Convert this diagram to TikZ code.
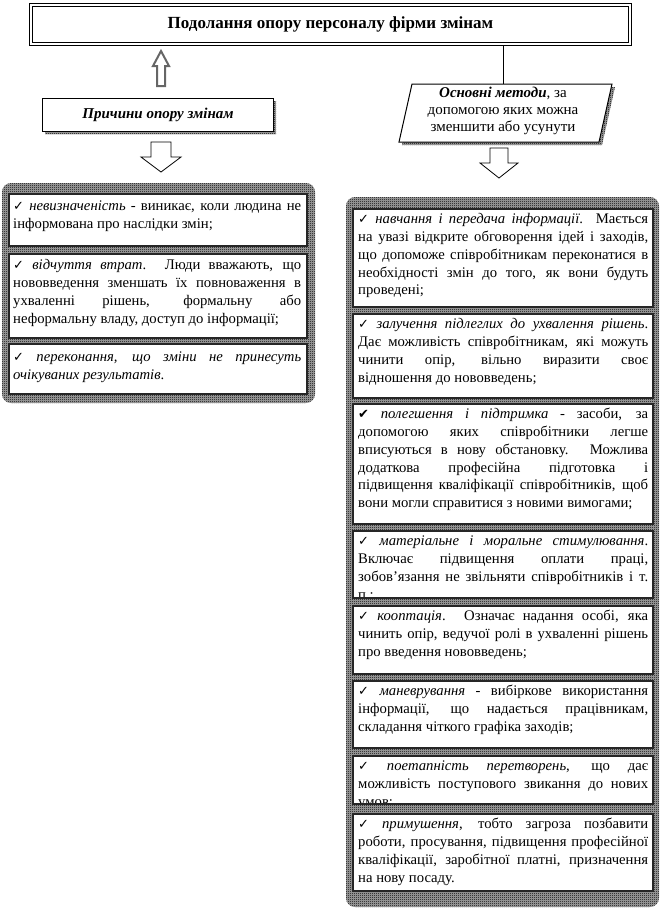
\documentclass[tikz,border=0pt]{standalone}
\usepackage{fontspec}
\setmainfont{Liberation Serif}
\newfontfamily\symf{DejaVu Sans}
\usetikzlibrary{patterns}
\pgfdeclarepatternformonly{stip}{\pgfpointorigin}{\pgfpoint{2pt}{2pt}}{\pgfpoint{2pt}{2pt}}{%
  \pgfpathrectangle{\pgfpointorigin}{\pgfpoint{1pt}{1pt}}%
  \pgfpathrectangle{\pgfpoint{1pt}{1pt}}{\pgfpoint{1pt}{1pt}}%
  \pgfusepath{fill}}
\newcommand\ck{{\symf\fontsize{13}{12}\selectfont ✓}}
\newcommand\ckb{{\symf\fontsize{13}{12}\selectfont ✔}}
\begin{document}
\begin{tikzpicture}[x=1pt,y=-1pt,
  every node/.style={font=\fontsize{14.7}{17.8}\selectfont},
  cbox/.style={draw=black!85, line width=1.5pt, fill=white, anchor=north west, inner sep=0pt},
  ltxt/.style={anchor=north west, inner sep=0pt, text width=288pt, align=justify,
    execute at begin node={\tolerance=10000\hyphenpenalty=10000}},
  rtxt/.style={anchor=north west, inner sep=0pt, text width=290pt, align=justify,
    execute at begin node={\tolerance=10000\hyphenpenalty=10000}},
  cont/.style={fill=black!35, postaction={pattern=stip}, rounded corners=9pt},
  shad/.style={fill=black!35, postaction={pattern=stip}},
  darrow/.style={draw=black, line width=0.8pt, fill=white},
  uarrow/.style={draw=black!60, line width=2pt, fill=white},
  frame/.style={draw=black, line width=1.2pt},
]
\useasboundingbox (0,0) rectangle (662,908);

% title
\draw[frame] (29.5,3.5) rectangle (631.5,45.5);
\draw[frame] (32.5,6.5) rectangle (628.5,42.5);
\node[minimum width=602pt, minimum height=42pt, inner sep=0pt,
  font=\fontsize{17}{20}\selectfont\bfseries] (title) at (330.5,24.5) {Подолання опору персоналу фірми змінам};

% up arrow
\draw[uarrow] (161,51) -- (169,66) -- (165,66) -- (165,86) -- (157,86) -- (157,66) -- (153,66) -- cycle;

% causes box
\path[shad] (45,101) rectangle (276,134);
\node[draw, line width=1pt, fill=white, minimum width=231pt, minimum height=33pt, anchor=north west,
  font=\fontsize{15}{17}\selectfont\bfseries\itshape] (cause) at (42,98) {Причини опору змінам};

% left down arrow
\draw[darrow] (151,142) -- (171,142) -- (171,157) -- (181,157) -- (161,172) -- (141,157) -- (151,157) -- cycle;

% connector + parallelogram
\coordinate (ptop) at (503,84);
\draw[line width=0.8pt] (title.south -| ptop) -- (ptop);
\path[shad] (415,87) -- (615,87) -- (602,145) -- (402,145) -- cycle;
\draw[line width=1pt, fill=white] (412,84) -- (612,84) -- (599,142) -- (399,142) -- cycle;
\node[align=center, font=\fontsize{15}{17}\selectfont] (para) at (503,111)
  {\textbf{\textit{Основні методи}}, за\\допомогою яких можна\\зменшити або усунути};

% right down arrow
\draw[darrow] (490,148) -- (508,148) -- (508,163) -- (518,163) -- (499,178) -- (480,163) -- (490,163) -- cycle;

% left container
\path[cont] (2,183) rectangle (315,403);
\node[cbox, minimum width=298pt, minimum height=52pt] (lb1) at (8,193) {};
\node[ltxt] (lt1) at (13,198) {\strut\ck\ \textit{невизначеність} - виникає, коли людина не\linebreak інформована про наслідки змін;};
\node[cbox, minimum width=298pt, minimum height=84pt] (lb2) at (8,253) {};
\node[ltxt] (lt2) at (13,257) {\strut\ck\ \textit{відчуття втрат}. Люди вважають, що\linebreak нововведення зменшать їх повноваження в\linebreak ухваленні рішень, формальну або\linebreak неформальну владу, доступ до інформації;};
\node[cbox, minimum width=298pt, minimum height=50pt] (lb3) at (8,343) {};
\node[ltxt] (lt3) at (13,349) {\strut\ck\ \textit{переконання, що зміни не принесуть\linebreak очікуваних результатів}.};

% right container
\path[cont] (346,197) rectangle (659,907);
\node[cbox, minimum width=300pt, minimum height=98pt] (rb1) at (352,208) {};
\node[rtxt] (rt1) at (358,211) {\strut\ck\ \textit{навчання і передача інформації}. Мається\linebreak на увазі відкрите обговорення ідей і заходів,\linebreak що допоможе співробітникам переконатися в\linebreak необхідності змін до того, як вони будуть\linebreak проведені;};
\node[cbox, minimum width=300pt, minimum height=84pt] (rb2) at (352,313) {};
\node[rtxt] (rt2) at (358,316) {\strut\ck\ \textit{залучення підлеглих до ухвалення рішень}.\linebreak Дає можливість співробітникам, які можуть\linebreak чинити опір, вільно виразити своє\linebreak відношення до нововведень;};
\node[cbox, minimum width=300pt, minimum height=120pt] (rb3) at (352,403) {};
\node[rtxt] (rt3) at (358,406) {\strut\ckb\ \textit{полегшення і підтримка} - засоби, за\linebreak допомогою яких співробітники легше\linebreak вписуються в нову обстановку. Можлива\linebreak додаткова професійна підготовка і\linebreak підвищення кваліфікації співробітників, щоб\linebreak вони могли справитися з новими вимогами;};
\node[cbox, minimum width=300pt, minimum height=67pt] (rb4) at (352,530) {};
\begin{scope}
\clip (352,530) rectangle (652,596);
\node[rtxt] (rt4) at (358,533) {\strut\ck\ \textit{матеріальне і моральне стимулювання}.\linebreak Включає підвищення оплати праці,\linebreak зобов'язання не звільняти співробітників і т.\linebreak п.;};
\end{scope}
\draw[draw=black!85, line width=1.5pt] (rb4.south west) -- (rb4.south east);
\node[cbox, minimum width=300pt, minimum height=68pt] (rb5) at (352,605) {};
\node[rtxt] (rt5) at (358,608) {\strut\ck\ \textit{кооптація}. Означає надання особі, яка\linebreak чинить опір, ведучої ролі в ухваленні рішень\linebreak про введення нововведень;};
\node[cbox, minimum width=300pt, minimum height=67pt] (rb6) at (352,680) {};
\node[rtxt] (rt6) at (358,683) {\strut\ck\ \textit{маневрування} - вибіркове використання\linebreak інформації, що надається працівникам,\linebreak складання чіткого графіка заходів;};
\node[cbox, minimum width=300pt, minimum height=48pt] (rb7) at (352,755) {};
\begin{scope}
\clip (352,755) rectangle (652,802);
\node[rtxt] (rt7) at (358,758) {\strut\ck\ \textit{поетапність перетворень}, що дає\linebreak можливість поступового звикання до нових\linebreak умов;};
\end{scope}
\draw[draw=black!85, line width=1.5pt] (rb7.south west) -- (rb7.south east);
\node[cbox, minimum width=300pt, minimum height=77pt] (rb8) at (352,813) {};
\node[rtxt] (rt8) at (358,816) {\strut\ck\ \textit{примушення}, тобто загроза позбавити\linebreak роботи, просування, підвищення професійної\linebreak кваліфікації, заробітної платні, призначення\linebreak на нову посаду.};
\end{tikzpicture}
\end{document}
